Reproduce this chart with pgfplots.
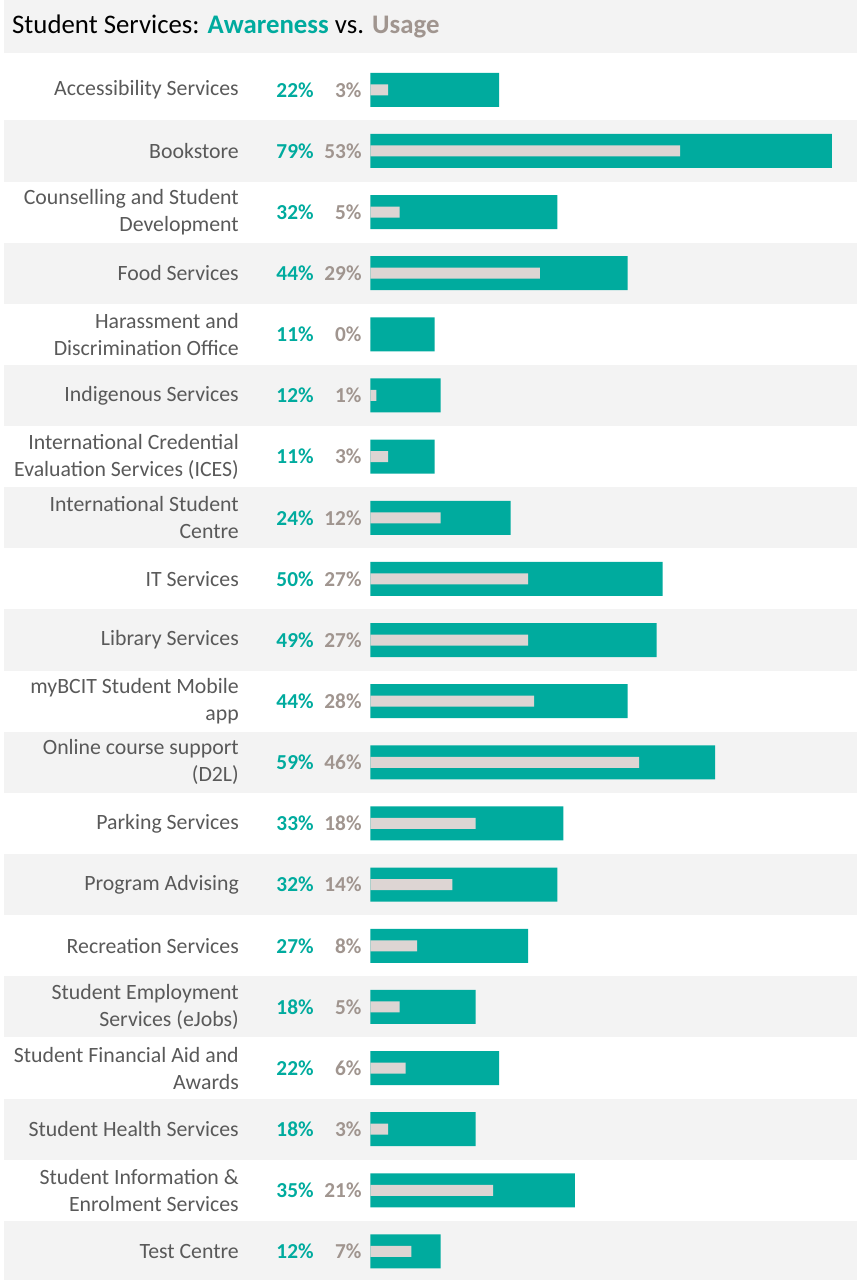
\documentclass[border=0pt]{standalone}
\usepackage{pgfplots}
\pgfplotsset{compat=1.18}
\usepackage{pgfplotstable}
\usepackage{fontspec}
\setmainfont{Carlito}
\definecolor{aware}{HTML}{00AB9E}
\definecolor{usebar}{HTML}{DDD5D3}
\definecolor{uselab}{HTML}{A0958F}
\definecolor{cat}{HTML}{595959}
\definecolor{band}{HTML}{F3F3F3}
\newcommand{\catfont}{\fontsize{21.8bp}{27bp}\selectfont}
\newcommand{\labfont}{\fontsize{21.3bp}{25bp}\selectfont\bfseries}
\newcommand{\titlefont}{\fontsize{26.8bp}{31bp}\selectfont}

\pgfplotstableread{
row aw us
0 22 3
1 79 53
2 32 5
3 44 29
4 11 0
5 12 1
6 11 3
7 24 12
8 50 27
9 49 27
10 44 28
11 59 46
12 33 18
13 32 14
14 27 8
15 18 5
16 22 6
17 18 3
18 35 21
19 12 7
}\data

\begin{document}
\begin{tikzpicture}
\begin{axis}[
  set layers,
  scale only axis,
  width=486.5bp, height=1222.8bp,
  xmin=0, xmax=83.28, ymin=-0.5, ymax=19.5,
  y dir=reverse,
  clip=false,
  axis line style={draw=none},
  xtick=\empty,
  ytick={0,...,19},
  major tick length=0pt,
  yticklabels={
    Accessibility Services,
    Bookstore,
    {Counselling and Student\\Development},
    Food Services,
    {Harassment and\\Discrimination Office},
    Indigenous Services,
    {International Credential\\Evaluation Services (ICES)},
    {International Student\\Centre},
    IT Services,
    Library Services,
    {myBCIT Student Mobile\\app},
    {Online course support\\(D2L)},
    Parking Services,
    Program Advising,
    Recreation Services,
    {Student Employment\\Services (eJobs)},
    {Student Financial Aid and\\Awards},
    Student Health Services,
    {Student Information \&\\Enrolment Services},
    Test Centre},
  yticklabel style={font=\catfont, text=cat, align=right, inner sep=0pt, anchor=east, xshift=-131.5bp},
]
\begin{pgfonlayer}{axis background}
\fill[band] (axis cs:-62.74,-1.469) rectangle (axis cs:83.28,-0.602);
\fill[band] (axis cs:-62.74,0.5) rectangle (axis cs:83.28,1.5);
\fill[band] (axis cs:-62.74,2.5) rectangle (axis cs:83.28,3.5);
\fill[band] (axis cs:-62.74,4.5) rectangle (axis cs:83.28,5.5);
\fill[band] (axis cs:-62.74,6.5) rectangle (axis cs:83.28,7.5);
\fill[band] (axis cs:-62.74,8.5) rectangle (axis cs:83.28,9.5);
\fill[band] (axis cs:-62.74,10.5) rectangle (axis cs:83.28,11.5);
\fill[band] (axis cs:-62.74,12.5) rectangle (axis cs:83.28,13.5);
\fill[band] (axis cs:-62.74,14.5) rectangle (axis cs:83.28,15.5);
\fill[band] (axis cs:-62.74,16.5) rectangle (axis cs:83.28,17.5);
\fill[band] (axis cs:-62.74,18.5) rectangle (axis cs:83.28,19.5);
\end{pgfonlayer}

\addplot[xbar, bar width=34bp, bar shift=0pt, fill=aware, draw=none] table[x=aw, y=row]{\data};
\addplot[xbar, bar width=11bp, bar shift=0pt, fill=usebar, draw=none] table[x=us, y=row]{\data};

\addplot[draw=none, mark=none, point meta=explicit symbolic,
  nodes near coords={\pgfplotspointmeta\%},
  nodes near coords style={anchor=east, inner sep=0pt, text=aware, font=\labfont}]
  table[x expr=-9.7, y=row, meta=aw]{\data};
\addplot[draw=none, mark=none, point meta=explicit symbolic,
  nodes near coords={\pgfplotspointmeta\%},
  nodes near coords style={anchor=east, inner sep=0pt, text=uselab, font=\labfont}]
  table[x expr=-1.5, y=row, meta=us]{\data};

\node[anchor=base west, font=\titlefont, inner sep=0pt] at (axis cs:-61.37,-0.913)
  {Student Services: \textcolor{aware}{\textbf{Awareness}} vs. \textcolor{uselab}{\textbf{Usage}}};

\coordinate (bl) at (axis cs:-63.42,19.467);
\coordinate (tr) at (axis cs:83.28,-1.469);
\end{axis}
\pgfresetboundingbox
\path[use as bounding box] (bl) rectangle (tr);
\end{tikzpicture}
\end{document}
